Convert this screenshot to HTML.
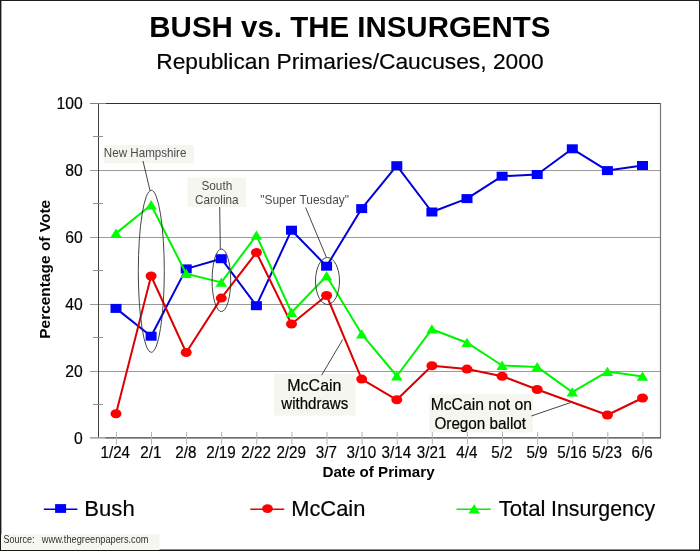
<!DOCTYPE html>
<html><head><meta charset="utf-8"><title>Bush vs. The Insurgents</title>
<style>
html,body{margin:0;padding:0;background:#fff;}
body{width:700px;height:551px;overflow:hidden;}
svg{display:block;}
text{font-family:"Liberation Sans",sans-serif;}
</style></head><body>
<svg width="700" height="551" viewBox="0 0 700 551">
<rect x="0" y="0" width="700" height="551" fill="#fff"/>
<rect x="0.5" y="0.5" width="699" height="550" fill="none" stroke="#1c1c1c" stroke-width="1"/>
<rect x="0" y="0" width="1.4" height="551" fill="#181818"/>
<rect x="0" y="549.5" width="700" height="1.5" fill="#181818"/>

<rect x="103.5" y="145.1" width="90.7" height="18" fill="#f6f6f0"/>
<rect x="187.5" y="177.5" width="58.5" height="29.5" fill="#f6f6f0"/>
<rect x="274" y="373.8" width="81.5" height="41.8" fill="#f6f6f0"/>
<rect x="429.2" y="394.2" width="103.6" height="38.1" fill="#f6f6f0"/>
<rect x="1" y="534.3" width="158.5" height="15.7" fill="#f6f6f0"/>
<rect x="90" y="170" width="571" height="1" fill="#9a9a9a"/>
<rect x="90" y="237" width="571" height="1" fill="#9a9a9a"/>
<rect x="90" y="304" width="571" height="1" fill="#9a9a9a"/>
<rect x="90" y="371" width="571" height="1" fill="#9a9a9a"/>
<rect x="98" y="103" width="563" height="1" fill="#303030"/>
<rect x="659.9" y="103" width="1.2" height="335" fill="#787878"/>
<rect x="98" y="103" width="1" height="335" fill="#404040"/>
<rect x="105" y="437" width="556" height="1.7" fill="#707070"/>
<rect x="90" y="103" width="16" height="1" fill="#808080"/>
<rect x="90" y="437.1" width="16" height="1.5" fill="#9c9c9c"/>
<rect x="93" y="136" width="10" height="1" fill="#909090"/>
<rect x="93" y="203" width="10" height="1" fill="#909090"/>
<rect x="93" y="270" width="10" height="1" fill="#909090"/>
<rect x="93" y="337" width="10" height="1" fill="#909090"/>
<rect x="93" y="404" width="10" height="1" fill="#909090"/>
<rect x="115.9" y="432" width="1" height="12.5" fill="#b4b4b4"/>
<rect x="151.0" y="432" width="1" height="12.5" fill="#b4b4b4"/>
<rect x="186.1" y="432" width="1" height="12.5" fill="#b4b4b4"/>
<rect x="221.2" y="432" width="1" height="12.5" fill="#b4b4b4"/>
<rect x="256.3" y="432" width="1" height="12.5" fill="#b4b4b4"/>
<rect x="291.4" y="432" width="1" height="12.5" fill="#b4b4b4"/>
<rect x="326.5" y="432" width="1" height="12.5" fill="#b4b4b4"/>
<rect x="361.6" y="432" width="1" height="12.5" fill="#b4b4b4"/>
<rect x="396.7" y="432" width="1" height="12.5" fill="#b4b4b4"/>
<rect x="431.8" y="432" width="1" height="12.5" fill="#b4b4b4"/>
<rect x="466.9" y="432" width="1" height="12.5" fill="#b4b4b4"/>
<rect x="502.0" y="432" width="1" height="12.5" fill="#b4b4b4"/>
<rect x="537.1" y="432" width="1" height="12.5" fill="#b4b4b4"/>
<rect x="572.2" y="432" width="1" height="12.5" fill="#b4b4b4"/>
<rect x="607.3" y="432" width="1" height="12.5" fill="#b4b4b4"/>
<rect x="642.4" y="432" width="1" height="12.5" fill="#b4b4b4"/>
<polyline points="116.0,308.4 151.1,336.2 186.2,268.9 221.3,258.7 256.4,305.7 291.5,230.2 326.6,266.2 361.7,208.6 396.8,165.7 431.9,212.0 467.0,198.6 502.1,176.2 537.2,174.5 572.3,148.8 607.4,170.6 642.5,165.5" fill="none" stroke="#0000d8" stroke-width="2.0" stroke-linejoin="round"/>
<rect x="110.5" y="303.9" width="11" height="9" fill="#0000ff"/>
<rect x="145.6" y="331.7" width="11" height="9" fill="#0000ff"/>
<rect x="180.7" y="264.4" width="11" height="9" fill="#0000ff"/>
<rect x="215.8" y="254.2" width="11" height="9" fill="#0000ff"/>
<rect x="250.9" y="301.2" width="11" height="9" fill="#0000ff"/>
<rect x="286.0" y="225.7" width="11" height="9" fill="#0000ff"/>
<rect x="321.1" y="261.7" width="11" height="9" fill="#0000ff"/>
<rect x="356.2" y="204.1" width="11" height="9" fill="#0000ff"/>
<rect x="391.3" y="161.2" width="11" height="9" fill="#0000ff"/>
<rect x="426.4" y="207.5" width="11" height="9" fill="#0000ff"/>
<rect x="461.5" y="194.1" width="11" height="9" fill="#0000ff"/>
<rect x="496.6" y="171.7" width="11" height="9" fill="#0000ff"/>
<rect x="531.7" y="170.0" width="11" height="9" fill="#0000ff"/>
<rect x="566.8" y="144.3" width="11" height="9" fill="#0000ff"/>
<rect x="601.9" y="166.1" width="11" height="9" fill="#0000ff"/>
<rect x="637.0" y="161.0" width="11" height="9" fill="#0000ff"/>
<polyline points="116.0,413.7 151.1,276.0 186.2,352.5 221.3,298.1 256.4,252.5 291.5,324.0 326.6,295.5 361.7,379.1 396.8,399.8 431.9,365.8 467.0,369.1 502.1,376.2 537.2,389.5 607.4,415.0 642.5,398.0" fill="none" stroke="#dc0000" stroke-width="2.0" stroke-linejoin="round"/>
<ellipse cx="116.0" cy="413.7" rx="5.5" ry="4.5" fill="#ff0000"/>
<ellipse cx="151.1" cy="276.0" rx="5.5" ry="4.5" fill="#ff0000"/>
<ellipse cx="186.2" cy="352.5" rx="5.5" ry="4.5" fill="#ff0000"/>
<ellipse cx="221.3" cy="298.1" rx="5.5" ry="4.5" fill="#ff0000"/>
<ellipse cx="256.4" cy="252.5" rx="5.5" ry="4.5" fill="#ff0000"/>
<ellipse cx="291.5" cy="324.0" rx="5.5" ry="4.5" fill="#ff0000"/>
<ellipse cx="326.6" cy="295.5" rx="5.5" ry="4.5" fill="#ff0000"/>
<ellipse cx="361.7" cy="379.1" rx="5.5" ry="4.5" fill="#ff0000"/>
<ellipse cx="396.8" cy="399.8" rx="5.5" ry="4.5" fill="#ff0000"/>
<ellipse cx="431.9" cy="365.8" rx="5.5" ry="4.5" fill="#ff0000"/>
<ellipse cx="467.0" cy="369.1" rx="5.5" ry="4.5" fill="#ff0000"/>
<ellipse cx="502.1" cy="376.2" rx="5.5" ry="4.5" fill="#ff0000"/>
<ellipse cx="537.2" cy="389.5" rx="5.5" ry="4.5" fill="#ff0000"/>
<ellipse cx="607.4" cy="415.0" rx="5.5" ry="4.5" fill="#ff0000"/>
<ellipse cx="642.5" cy="398.0" rx="5.5" ry="4.5" fill="#ff0000"/>
<polyline points="116.0,233.4 151.1,205.0 186.2,273.7 221.3,282.4 256.4,235.3 291.5,312.5 326.6,276.0 361.7,334.1 396.8,376.0 431.9,329.2 467.0,342.7 502.1,365.5 537.2,366.9 572.3,392.1 607.4,371.6 642.5,376.4" fill="none" stroke="#00f400" stroke-width="2.0" stroke-linejoin="round"/>
<polygon points="116.0,228.5 121.7,237.8 110.3,237.8" fill="#00ff00"/>
<polygon points="151.1,200.1 156.8,209.4 145.4,209.4" fill="#00ff00"/>
<polygon points="186.2,268.8 191.9,278.1 180.5,278.1" fill="#00ff00"/>
<polygon points="221.3,277.5 227.0,286.8 215.6,286.8" fill="#00ff00"/>
<polygon points="256.4,230.4 262.1,239.7 250.7,239.7" fill="#00ff00"/>
<polygon points="291.5,307.6 297.2,316.9 285.8,316.9" fill="#00ff00"/>
<polygon points="326.6,271.1 332.3,280.4 320.9,280.4" fill="#00ff00"/>
<polygon points="361.7,329.2 367.4,338.5 356.0,338.5" fill="#00ff00"/>
<polygon points="396.8,371.1 402.5,380.4 391.1,380.4" fill="#00ff00"/>
<polygon points="431.9,324.3 437.6,333.6 426.2,333.6" fill="#00ff00"/>
<polygon points="467.0,337.8 472.7,347.1 461.3,347.1" fill="#00ff00"/>
<polygon points="502.1,360.6 507.8,369.9 496.4,369.9" fill="#00ff00"/>
<polygon points="537.2,362.0 542.9,371.3 531.5,371.3" fill="#00ff00"/>
<polygon points="572.3,387.2 578.0,396.5 566.6,396.5" fill="#00ff00"/>
<polygon points="607.4,366.7 613.1,376.0 601.7,376.0" fill="#00ff00"/>
<polygon points="642.5,371.5 648.2,380.8 636.8,380.8" fill="#00ff00"/>
<g fill="none" stroke="#303030" stroke-width="0.9">
<ellipse cx="151.3" cy="271.3" rx="13" ry="81"/>
<ellipse cx="221.4" cy="280.3" rx="9.3" ry="31.3"/>
<ellipse cx="327.5" cy="281" rx="12" ry="23.5"/>
<line x1="143" y1="161" x2="150" y2="190.5"/>
<line x1="219.7" y1="207" x2="220.3" y2="249"/>
<line x1="305.6" y1="207.5" x2="326.4" y2="257.3"/>
<line x1="342.8" y1="339.4" x2="321.6" y2="375.2"/>
<line x1="531.3" y1="416" x2="570.5" y2="402.6"/>
</g>
<line x1="43.8" y1="509.2" x2="77.4" y2="509.2" stroke="#0000e8" stroke-width="1.35"/>
<rect x="55.1" y="504.1" width="11" height="8.8" fill="#0000ff"/>
<line x1="250.3" y1="509.2" x2="284.2" y2="509.2" stroke="#e80000" stroke-width="1.35"/>
<ellipse cx="267.5" cy="508.6" rx="5.4" ry="4.3" fill="#ff0000"/>
<line x1="456.5" y1="509.2" x2="490.7" y2="509.2" stroke="#00f000" stroke-width="1.5"/>
<polygon points="474.2,504.1 480,513.6 468.3,513.6" fill="#00ff00"/>
<g style="opacity:0.995">
<text transform="translate(149.34,37.20) scale(1.0049,1)" font-size="29.33" font-weight="bold" fill="#000" xml:space="preserve">BUSH vs. THE INSURGENTS</text>
<text transform="translate(156.18,68.60) scale(1.0050,1)" font-size="22.67" fill="#000" stroke="#000" stroke-width="0.2" xml:space="preserve">Republican Primaries/Caucuses, 2000</text>
<text transform="translate(322.44,476.70) scale(0.9896,1)" font-size="15.33" font-weight="bold" fill="#000" xml:space="preserve">Date of Primary</text>
<text transform="translate(50.30,338.78) rotate(-90) scale(1.0101,1)" font-size="15.33" font-weight="bold" fill="#000" xml:space="preserve">Percentage of Vote</text>
<text transform="translate(103.87,157.00) scale(0.9680,1)" font-size="12" fill="#4a4a4a" xml:space="preserve">New Hampshire</text>
<text transform="translate(201.41,190.00) scale(0.9833,1)" font-size="12" fill="#4a4a4a" xml:space="preserve">South</text>
<text transform="translate(195.02,204.00) scale(0.9741,1)" font-size="12" fill="#4a4a4a" xml:space="preserve">Carolina</text>
<text transform="translate(260.22,204.00) scale(0.9966,1)" font-size="12" fill="#4a4a4a" xml:space="preserve">&quot;Super Tuesday&quot;</text>
<text transform="translate(287.32,390.50) scale(1.0183,1)" font-size="15.7" fill="#000" stroke="#000" stroke-width="0.2" xml:space="preserve">McCain</text>
<text transform="translate(281.30,408.70) scale(0.9605,1)" font-size="15.7" fill="#000" stroke="#000" stroke-width="0.2" xml:space="preserve">withdraws</text>
<text transform="translate(430.64,409.70) scale(1.0019,1)" font-size="15.7" fill="#000" stroke="#000" stroke-width="0.2" xml:space="preserve">McCain not on</text>
<text transform="translate(434.44,429.10) scale(0.9720,1)" font-size="15.7" fill="#000" stroke="#000" stroke-width="0.2" xml:space="preserve">Oregon ballot</text>
<text transform="translate(84.33,516.30) scale(1.0190,1)" font-size="21.7" fill="#000" stroke="#000" stroke-width="0.2" xml:space="preserve">Bush</text>
<text transform="translate(291.15,516.30) scale(1.0098,1)" font-size="21.7" fill="#000" stroke="#000" stroke-width="0.2" xml:space="preserve">McCain</text>
<text transform="translate(498.66,516.30) scale(1.0238,1)" font-size="21.7" fill="#000" stroke="#000" stroke-width="0.2" xml:space="preserve">Total</text>
<text transform="translate(550.98,516.30) scale(0.9831,1)" font-size="21.7" fill="#000" stroke="#000" stroke-width="0.2" xml:space="preserve">Insurgency</text>
<text transform="translate(3.45,542.90) scale(0.8463,1)" font-size="10.67" fill="#303030" xml:space="preserve">Source:</text>
<text transform="translate(41.80,542.90) scale(0.8662,1)" font-size="10.67" fill="#303030" xml:space="preserve">www.thegreenpapers.com</text>
<text transform="translate(56.54,108.80) scale(0.9800,1)" font-size="16" fill="#000" stroke="#000" stroke-width="0.2" xml:space="preserve">100</text>
<text transform="translate(65.32,175.80) scale(0.9800,1)" font-size="16" fill="#000" stroke="#000" stroke-width="0.2" xml:space="preserve">80</text>
<text transform="translate(65.32,242.80) scale(0.9800,1)" font-size="16" fill="#000" stroke="#000" stroke-width="0.2" xml:space="preserve">60</text>
<text transform="translate(65.32,309.80) scale(0.9800,1)" font-size="16" fill="#000" stroke="#000" stroke-width="0.2" xml:space="preserve">40</text>
<text transform="translate(65.32,376.80) scale(0.9800,1)" font-size="16" fill="#000" stroke="#000" stroke-width="0.2" xml:space="preserve">20</text>
<text transform="translate(73.95,443.80) scale(0.9800,1)" font-size="16" fill="#000" stroke="#000" stroke-width="0.2" xml:space="preserve">0</text>
<text transform="translate(100.50,458.20) scale(0.9500,1)" font-size="16" fill="#000" stroke="#000" stroke-width="0.2" xml:space="preserve">1/24</text>
<text transform="translate(140.24,458.20) scale(0.9500,1)" font-size="16" fill="#000" stroke="#000" stroke-width="0.2" xml:space="preserve">2/1</text>
<text transform="translate(175.26,458.20) scale(0.9500,1)" font-size="16" fill="#000" stroke="#000" stroke-width="0.2" xml:space="preserve">2/8</text>
<text transform="translate(206.18,458.20) scale(0.9500,1)" font-size="16" fill="#000" stroke="#000" stroke-width="0.2" xml:space="preserve">2/19</text>
<text transform="translate(241.28,458.20) scale(0.9500,1)" font-size="16" fill="#000" stroke="#000" stroke-width="0.2" xml:space="preserve">2/22</text>
<text transform="translate(276.38,458.20) scale(0.9500,1)" font-size="16" fill="#000" stroke="#000" stroke-width="0.2" xml:space="preserve">2/29</text>
<text transform="translate(315.81,458.20) scale(0.9500,1)" font-size="16" fill="#000" stroke="#000" stroke-width="0.2" xml:space="preserve">3/7</text>
<text transform="translate(346.58,458.20) scale(0.9500,1)" font-size="16" fill="#000" stroke="#000" stroke-width="0.2" xml:space="preserve">3/10</text>
<text transform="translate(381.60,458.20) scale(0.9500,1)" font-size="16" fill="#000" stroke="#000" stroke-width="0.2" xml:space="preserve">3/14</text>
<text transform="translate(416.86,458.20) scale(0.9500,1)" font-size="16" fill="#000" stroke="#000" stroke-width="0.2" xml:space="preserve">3/21</text>
<text transform="translate(456.21,458.20) scale(0.9500,1)" font-size="16" fill="#000" stroke="#000" stroke-width="0.2" xml:space="preserve">4/4</text>
<text transform="translate(491.31,458.20) scale(0.9500,1)" font-size="16" fill="#000" stroke="#000" stroke-width="0.2" xml:space="preserve">5/2</text>
<text transform="translate(526.41,458.20) scale(0.9500,1)" font-size="16" fill="#000" stroke="#000" stroke-width="0.2" xml:space="preserve">5/9</text>
<text transform="translate(557.26,458.20) scale(0.9500,1)" font-size="16" fill="#000" stroke="#000" stroke-width="0.2" xml:space="preserve">5/16</text>
<text transform="translate(592.36,458.20) scale(0.9500,1)" font-size="16" fill="#000" stroke="#000" stroke-width="0.2" xml:space="preserve">5/23</text>
<text transform="translate(631.56,458.20) scale(0.9500,1)" font-size="16" fill="#000" stroke="#000" stroke-width="0.2" xml:space="preserve">6/6</text>
</g>
</svg></body></html>
